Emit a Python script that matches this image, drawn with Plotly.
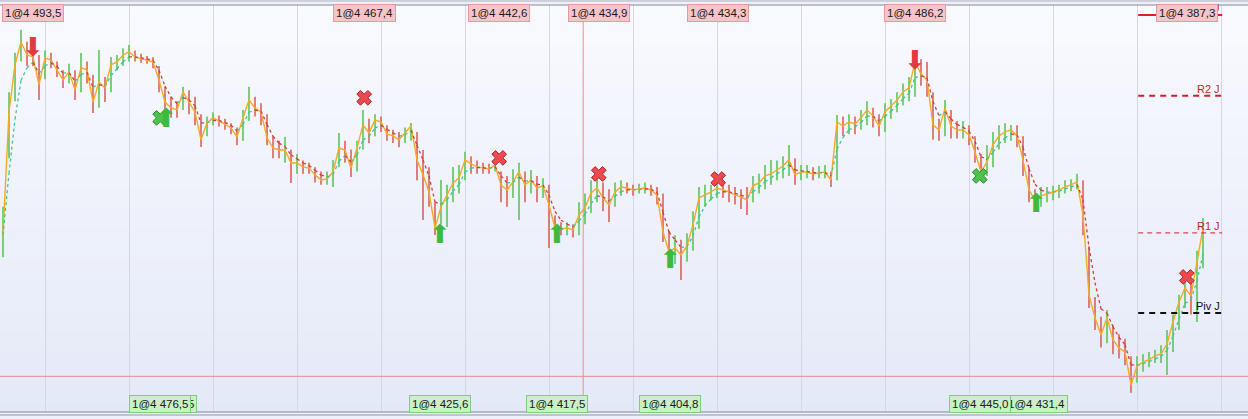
import pandas as pd
import plotly.graph_objects as go

# one value per bar (bar index = position in list)
close = [
    4405.2, 4461.1, 4482.5, 4492.9, 4487.0, 4486.1, 4473.4, 4485.6, 4484.7, 4480.2,
    4475.6, 4479.3, 4471.1, 4481.1, 4480.2, 4465.6, 4474.7, 4472.0, 4482.5, 4483.8,
    4487.0, 4488.4, 4486.1, 4485.2, 4484.7, 4483.8, 4475.6, 4465.6, 4462.9, 4462.0,
    4470.2, 4465.6, 4461.1, 4448.4, 4456.1, 4458.4, 4457.0, 4455.6, 4453.8, 4449.7,
    4458.4, 4466.5, 4462.9, 4461.1, 4449.3, 4444.7, 4443.8, 4443.8, 4437.9, 4437.9,
    4436.1, 4435.6, 4432.5, 4430.2, 4430.6, 4433.8, 4444.7, 4443.8, 4435.6, 4444.7,
    4455.2, 4451.5, 4457.5, 4456.5, 4451.1, 4450.2, 4448.4, 4451.5, 4454.7, 4439.3,
    4432.5, 4424.7, 4408.4, 4417.9, 4423.4, 4428.8, 4431.1, 4439.3, 4437.5, 4436.1,
    4435.6, 4435.2, 4437.0, 4427.9, 4425.6, 4429.3, 4433.8, 4427.9, 4430.2, 4426.5,
    4427.5, 4418.8, 4408.4, 4407.9, 4408.4, 4407.5, 4414.3, 4417.5, 4424.3, 4426.5,
    4422.0, 4418.8, 4424.7, 4427.0, 4426.5, 4425.6, 4426.1, 4426.5, 4425.6, 4423.4,
    4406.5, 4397.5, 4399.3, 4396.1, 4400.2, 4409.7, 4422.0, 4423.4, 4424.7, 4426.5,
    4425.6, 4424.7, 4423.4, 4422.5, 4421.1, 4427.5, 4428.8, 4432.0, 4432.9, 4434.7,
    4436.5, 4439.3, 4432.5, 4433.8, 4433.8, 4432.9, 4433.4, 4433.8, 4430.2, 4456.5,
    4454.7, 4456.5, 4455.6, 4458.4, 4462.0, 4459.3, 4454.7, 4461.1, 4463.8, 4466.5,
    4470.2, 4472.0, 4483.8, 4478.4, 4475.6, 4455.2, 4452.9, 4462.9, 4454.7, 4452.9,
    4452.9, 4450.6, 4442.9, 4433.8, 4438.4, 4446.1, 4450.2, 4452.0, 4452.9, 4450.2,
    4439.3, 4425.6, 4421.1, 4422.9, 4423.8, 4424.7, 4425.6, 4427.0, 4427.9, 4429.3,
    4414.3, 4377.9, 4367.5, 4359.7, 4367.5, 4357.5, 4353.8, 4352.0, 4337.0, 4345.6,
    4347.5, 4348.4, 4350.2, 4351.1, 4355.6, 4365.6, 4374.7, 4381.1, 4377.5, 4392.9,
    4408.4,
]
high = [
    4418.0, 4470.0, 4488.0, 4498.4, 4493.0, 4490.0, 4487.0, 4489.0, 4488.0, 4484.0,
    4480.0, 4483.0, 4480.0, 4487.9, 4484.0, 4478.0, 4489.3, 4477.0, 4486.0, 4487.0,
    4490.0, 4491.5, 4489.0, 4487.5, 4486.5, 4486.0, 4482.0, 4472.5, 4468.0, 4466.0,
    4472.5, 4471.0, 4468.0, 4460.0, 4459.0, 4461.0, 4459.5, 4458.0, 4456.0, 4454.0,
    4462.0, 4472.5, 4468.0, 4465.0, 4460.0, 4450.0, 4448.0, 4449.7, 4444.0, 4442.0,
    4439.0, 4438.0, 4436.0, 4434.0, 4434.0, 4439.3, 4451.5, 4448.0, 4444.0, 4448.0,
    4462.0, 4458.0, 4460.0, 4459.0, 4455.0, 4453.0, 4452.0, 4454.0, 4456.1, 4452.0,
    4443.8, 4436.0, 4420.0, 4430.2, 4428.0, 4436.1, 4437.0, 4443.0, 4441.0, 4439.0,
    4438.0, 4437.5, 4440.0, 4434.0, 4432.0, 4435.0, 4438.0, 4434.0, 4434.7, 4432.0,
    4431.0, 4428.0, 4414.0, 4411.0, 4411.0, 4410.0, 4420.0, 4424.0, 4430.0, 4431.0,
    4429.0, 4426.0, 4429.0, 4430.0, 4429.0, 4428.0, 4428.5, 4429.0, 4428.0, 4427.0,
    4424.0, 4407.0, 4405.0, 4403.0, 4406.0, 4416.0, 4427.0, 4428.0, 4428.0, 4430.0,
    4429.0, 4428.0, 4427.0, 4426.0, 4427.0, 4432.0, 4433.0, 4437.0, 4439.3, 4439.0,
    4441.0, 4446.1, 4440.0, 4437.0, 4437.0, 4436.0, 4436.5, 4437.0, 4434.0, 4459.7,
    4459.0, 4460.0, 4459.0, 4462.0, 4466.0, 4463.0, 4460.0, 4465.0, 4467.0, 4470.0,
    4474.0, 4477.0, 4487.0, 4485.0, 4483.8, 4470.0, 4458.0, 4466.5, 4462.0, 4457.0,
    4457.0, 4455.0, 4450.0, 4442.0, 4446.0, 4452.0, 4455.0, 4456.0, 4455.2, 4455.0,
    4450.0, 4436.0, 4426.0, 4427.0, 4427.0, 4427.5, 4428.0, 4430.0, 4430.5, 4433.0,
    4430.0, 4400.0, 4377.0, 4368.0, 4371.1, 4364.0, 4360.0, 4358.0, 4350.0, 4350.0,
    4351.0, 4352.0, 4353.0, 4355.0, 4362.0, 4369.0, 4378.0, 4387.0, 4384.0, 4398.0,
    4412.9,
]
low = [
    4395.0, 4440.0, 4466.0, 4484.0, 4482.0, 4482.0, 4466.5, 4476.0, 4481.0, 4477.0,
    4472.0, 4474.0, 4466.5, 4470.0, 4474.0, 4460.6, 4463.0, 4465.6, 4470.0, 4480.0,
    4482.0, 4484.0, 4484.0, 4483.5, 4483.0, 4481.0, 4470.0, 4460.0, 4458.4, 4458.4,
    4462.0, 4460.0, 4455.0, 4445.2, 4450.0, 4455.0, 4454.5, 4453.0, 4451.0, 4446.0,
    4448.0, 4457.0, 4459.0, 4455.0, 4446.0, 4440.0, 4440.0, 4438.0, 4428.8, 4433.0,
    4433.0, 4433.0, 4429.0, 4428.0, 4428.0, 4427.0, 4436.0, 4438.0, 4431.5, 4434.0,
    4444.0, 4447.0, 4450.0, 4452.0, 4448.0, 4447.0, 4445.0, 4447.0, 4448.0, 4430.0,
    4412.0, 4418.0, 4405.2, 4410.0, 4408.8, 4420.0, 4424.0, 4430.0, 4433.0, 4433.0,
    4433.0, 4433.0, 4434.0, 4420.0, 4418.0, 4422.0, 4412.0, 4420.0, 4424.0, 4420.0,
    4422.0, 4399.3, 4404.0, 4405.0, 4405.0, 4404.0, 4405.0, 4410.0, 4415.0, 4420.0,
    4416.0, 4411.1, 4418.0, 4423.0, 4424.0, 4423.0, 4424.0, 4424.0, 4423.0, 4419.0,
    4402.0, 4392.0, 4392.0, 4384.7, 4393.0, 4398.0, 4408.0, 4418.0, 4421.0, 4422.0,
    4422.0, 4420.0, 4419.0, 4417.0, 4414.3, 4420.0, 4424.0, 4426.0, 4428.0, 4430.0,
    4431.0, 4432.0, 4428.0, 4430.0, 4431.0, 4430.0, 4431.0, 4431.0, 4427.0, 4430.0,
    4450.0, 4451.0, 4451.0, 4453.0, 4455.0, 4454.0, 4450.0, 4452.0, 4458.0, 4461.0,
    4464.0, 4466.0, 4468.0, 4473.0, 4468.0, 4448.4, 4448.0, 4450.0, 4449.0, 4449.0,
    4449.0, 4446.0, 4438.0, 4430.0, 4432.0, 4436.0, 4444.0, 4447.0, 4448.0, 4445.0,
    4432.0, 4420.0, 4416.0, 4418.0, 4420.0, 4421.0, 4422.0, 4424.0, 4425.0, 4426.0,
    4405.0, 4372.0, 4362.0, 4354.0, 4356.0, 4351.0, 4349.0, 4346.0, 4333.4, 4338.0,
    4343.0, 4345.0, 4347.0, 4347.0, 4341.5, 4352.0, 4362.0, 4372.0, 4369.0, 4365.6,
    4390.0,
]

# executed orders: bar, where the icon sits, fill price, kind
trade_bar = [5.0, 26.2, 27.2, 60.2, 72.8, 82.7, 92.3, 99.3, 111.2, 119.2, 152.0, 162.8, 172.2, 197.3]
trade_icon_y = [4489.3, 4458.4, 4457.0, 4467.5, 4404.7, 4440.2, 4404.7, 4432.9, 4392.9, 4430.6,
                4483.4, 4432.0, 4418.4, 4386.1]
trade_price = [4493.5, 4476.5, 4476.5, 4467.4, 4425.6, 4442.6, 4417.5, 4434.9, 4404.8, 4434.3,
               4486.2, 4445.0, 4431.4, 4387.3]
trade_kind = ["sell", "cover", "buy", "exit", "buy", "exit", "buy", "exit", "buy", "exit",
              "sell", "cover", "buy", "exit"]

# daily pivots, drawn over the last session only
pivot_names = ["R3 J", "R2 J", "R1 J", "Piv J"]
pivot_levels = [4505.2, 4468.4, 4406.1, 4369.7]
pivot_first_bar = 189.2
pivot_last_bar = 203.2

cursor_bar = 96.7
cursor_price = 4340.9

Y_MIN, Y_MAX = 4324.7, 4509.7
W, H = 1248, 419
M_TOP, M_BOT = 5, 7

fig = go.Figure()

# high-low bars, green if up vs previous close, red otherwise
up_x, up_y, dn_x, dn_y = [], [], [], []
for i, (h, l) in enumerate(zip(high, low)):
    if i == 0 or close[i] >= close[i - 1]:
        up_x += [i, i, None]
        up_y += [l, h, None]
    else:
        dn_x += [i, i, None]
        dn_y += [l, h, None]
fig.add_trace(go.Scatter(x=up_x, y=up_y, mode='lines', line=dict(color='#5cc45a', width=1.6), hoverinfo='skip'))
fig.add_trace(go.Scatter(x=dn_x, y=dn_y, mode='lines', line=dict(color='#d8625c', width=1.6), hoverinfo='skip'))

# price line
fig.add_trace(go.Scatter(x=list(range(len(close))), y=close, mode='lines',
                         line=dict(color='#f7a925', width=1.4)))

# short moving average, dashed, coloured by slope
ma = pd.Series(close).ewm(span=3, adjust=False).mean().tolist()
ma_up_x, ma_up_y, ma_dn_x, ma_dn_y = [], [], [], []
for k in range(1, len(ma)):
    if ma[k] >= ma[k - 1]:
        ma_up_x += [k - 1, k, None]
        ma_up_y += [ma[k - 1], ma[k], None]
    else:
        ma_dn_x += [k - 1, k, None]
        ma_dn_y += [ma[k - 1], ma[k], None]
fig.add_trace(go.Scatter(x=ma_up_x, y=ma_up_y, mode='lines',
                         line=dict(color='#3cc88e', width=1.3, dash='3px,3px'), hoverinfo='skip'))
fig.add_trace(go.Scatter(x=ma_dn_x, y=ma_dn_y, mode='lines',
                         line=dict(color='#cf3f3a', width=1.3, dash='3px,3px'), hoverinfo='skip'))

# order icons
for kind, sym, col, edge in [('exit', 'x', '#ec4a4e', '#a82328'), ('cover', 'x', '#4cc34c', '#25862a')]:
    xs = [b for b, k in zip(trade_bar, trade_kind) if k == kind]
    ys = [p for p, k in zip(trade_icon_y, trade_kind) if k == kind]
    fig.add_trace(go.Scatter(x=xs, y=ys, mode='markers',
                             marker=dict(symbol=sym, size=13, color=col, line=dict(color=edge, width=1))))
for kind, glyph, col in [('sell', '⬇', '#e03b3f'), ('buy', '⬆', '#3dba3d')]:
    xs = [b for b, k in zip(trade_bar, trade_kind) if k == kind]
    ys = [p for p, k in zip(trade_icon_y, trade_kind) if k == kind]
    fig.add_trace(go.Scatter(x=xs, y=ys, mode='text', text=[glyph] * len(xs),
                             textfont=dict(family='DejaVu Sans', size=26, color=col)))

shapes = []
# background gradient
n_bands = 40
top_c, bot_c = (249, 250, 254), (228, 233, 248)
for b in range(n_bands):
    t = (b + 0.5) / n_bands
    c = [round(top_c[j] + (bot_c[j] - top_c[j]) * t) for j in range(3)]
    shapes.append(dict(type='rect', xref='paper', yref='paper', x0=0, x1=1,
                       y0=1 - (b + 1) / n_bands, y1=1 - b / n_bands + 0.001,
                       fillcolor='rgb(%d,%d,%d)' % tuple(c), line=dict(width=0), layer='below'))

# cursor cross
shapes.append(dict(type='line', xref='paper', yref='y', x0=0, x1=1, y0=cursor_price, y1=cursor_price,
                   line=dict(color='#f08c8c', width=1)))
shapes.append(dict(type='line', xref='x', yref='paper', x0=cursor_bar, x1=cursor_bar, y0=0, y1=1,
                   line=dict(color='#f08c8c', width=1)))

# pivot lines
pivot_style = {
    'R3 J': dict(color='#dd1f1f', width=2, dash='solid'),
    'R2 J': dict(color='#d21d24', width=2, dash='6px,5px'),
    'R1 J': dict(color='#d21d24', width=1, dash='5px,4px'),
    'Piv J': dict(color='#111111', width=2, dash='6px,5px'),
}
for name, lvl in zip(pivot_names, pivot_levels):
    shapes.append(dict(type='line', xref='x', yref='y', x0=pivot_first_bar, x1=pivot_last_bar,
                       y0=lvl, y1=lvl, line=pivot_style[name]))

# frame lines
plot_h = H - M_TOP - M_BOT
shapes.append(dict(type='line', xref='paper', yref='paper', x0=0, x1=1, y0=1 + 4 / plot_h, y1=1 + 4 / plot_h,
                   line=dict(color='#a9b0bb', width=1)))
shapes.append(dict(type='line', xref='paper', yref='paper', x0=0, x1=1, y0=1, y1=1,
                   line=dict(color='#7d8796', width=1.2)))
shapes.append(dict(type='line', xref='paper', yref='paper', x0=0, x1=1, y0=0, y1=0,
                   line=dict(color='#7d8796', width=1.2)))
shapes.append(dict(type='line', xref='paper', yref='paper', x0=0, x1=1, y0=-3 / plot_h, y1=-3 / plot_h,
                   line=dict(color='#8e97a5', width=1)))

annotations = []
for name, lvl in zip(pivot_names, pivot_levels):
    annotations.append(dict(x=pivot_last_bar, y=lvl, xref='x', yref='y', text=name, showarrow=False,
                            xanchor='right', yanchor='bottom', yshift=-1,
                            font=dict(family='Arial, Liberation Sans', size=11,
                                      color='#111111' if name == 'Piv J' else '#d21d24')))


def fmt(p):
    s = ('%.1f' % p).replace('.', ',')
    return s[0] + ' ' + s[1:]


# later orders first, so an earlier tag covers a later one on the same spot
for j in reversed(range(len(trade_bar))):
    b, p, k = trade_bar[j], trade_price[j], trade_kind[j]
    top = k in ('sell', 'exit')
    annotations.append(dict(
        x=b, y=(1 - 7.5 / plot_h) if top else (8.5 / plot_h), xref='x', yref='paper',
        text='1@' + fmt(p), showarrow=False, xanchor='center', yanchor='middle',
        font=dict(family='Arial, Liberation Sans', size=11.5, color='#1a1a1a'),
        bgcolor='#f7c5c9' if top else '#c9f0c6',
        bordercolor='#e59aa1' if top else '#7fce7b', borderwidth=1, borderpad=2))

fig.update_layout(
    width=W, height=H,
    margin=dict(l=0, r=0, t=M_TOP, b=M_BOT),
    paper_bgcolor='#eef1fa',
    plot_bgcolor='rgba(0,0,0,0)',
    showlegend=False,
    shapes=shapes,
    annotations=annotations,
    xaxis=dict(range=[-0.5, 207.5], showgrid=True, gridcolor='#d2d8e4', gridwidth=1,
               tick0=7, dtick=14, showticklabels=False, zeroline=False, showline=False, ticks=''),
    yaxis=dict(range=[Y_MIN, Y_MAX], showgrid=False, showticklabels=False, zeroline=False,
               showline=False, ticks=''),
)

fig.write_html("out.html", config={'displayModeBar': False},
               post_script="document.body.style.margin='0';")
